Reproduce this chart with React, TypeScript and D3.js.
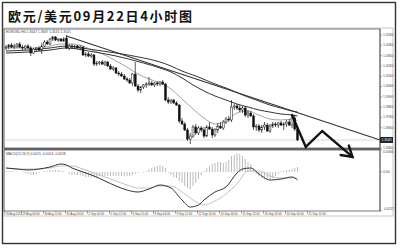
import React from "react";
import * as d3 from "d3";

const TITLE = "欧元/美元09月22日4小时图";
const SYMBOL_LABEL = "EURUSD,H4 1.3647 1.3667 1.3531 1.3541";
const MACD_LABEL = "MACD(12,26,9) 0.0015 -0.0024 -0.0018";

// 4-hour candles, oldest first
const OPEN = [
  1.4434, 1.4443, 1.4463, 1.4443, 1.4453, 1.4473, 1.4443, 1.4434, 1.4453, 1.4434,
  1.4385, 1.4424, 1.4434, 1.4414, 1.4453, 1.4492, 1.4473, 1.4521, 1.4541, 1.4511,
  1.4521, 1.4502, 1.4531, 1.4434, 1.4453, 1.4443, 1.4453, 1.4434, 1.4443, 1.4366,
  1.4376, 1.4356, 1.4366, 1.4278, 1.4288, 1.4298, 1.4278, 1.4298, 1.4259, 1.4230,
  1.4240, 1.4191, 1.4181, 1.4162, 1.4133, 1.4123, 1.4094, 1.4181, 1.4065, 1.4026,
  1.4055, 1.4075, 1.4084, 1.4094, 1.4075, 1.4094, 1.4084, 1.4104, 1.4084, 1.3929,
  1.3910, 1.3929, 1.3900, 1.3880, 1.3725, 1.3696, 1.3638, 1.3550, 1.3579, 1.3667,
  1.3609, 1.3657, 1.3638, 1.3579, 1.3667, 1.3647, 1.3589, 1.3638, 1.3676, 1.3657,
  1.3715, 1.3744, 1.3735, 1.3861, 1.3871, 1.3851, 1.3832, 1.3851, 1.3783, 1.3803,
  1.3774, 1.3667, 1.3676, 1.3638, 1.3667, 1.3686, 1.3628, 1.3676, 1.3696, 1.3686,
  1.3706, 1.3686, 1.3696, 1.3715, 1.3686, 1.3754, 1.3647,
];
const HIGH = [
  1.4463, 1.4473, 1.4482, 1.4473, 1.4482, 1.4492, 1.4463, 1.4463, 1.4473, 1.4453,
  1.4434, 1.4443, 1.4453, 1.4482, 1.4511, 1.4511, 1.4531, 1.4550, 1.4550, 1.4531,
  1.4531, 1.4541, 1.4560, 1.4473, 1.4473, 1.4463, 1.4463, 1.4463, 1.4453, 1.4395,
  1.4395, 1.4385, 1.4376, 1.4308, 1.4308, 1.4317, 1.4308, 1.4308, 1.4278, 1.4259,
  1.4249, 1.4210, 1.4201, 1.4181, 1.4152, 1.4143, 1.4191, 1.4298, 1.4084, 1.4065,
  1.4084, 1.4104, 1.4152, 1.4113, 1.4104, 1.4113, 1.4113, 1.4123, 1.4094, 1.3958,
  1.3939, 1.3939, 1.3919, 1.3890, 1.3754, 1.3715, 1.3657, 1.3609, 1.3686, 1.3696,
  1.3676, 1.3676, 1.3667, 1.3686, 1.3715, 1.3667, 1.3657, 1.3706, 1.3715, 1.3735,
  1.3764, 1.3774, 1.3929, 1.3890, 1.3890, 1.3880, 1.3871, 1.3871, 1.3832, 1.3822,
  1.3793, 1.3696, 1.3696, 1.3686, 1.3715, 1.3706, 1.3696, 1.3715, 1.3715, 1.3715,
  1.3725, 1.3715, 1.3735, 1.3744, 1.3783, 1.3783, 1.3667,
];
const LOW = [
  1.4414, 1.4424, 1.4434, 1.4424, 1.4434, 1.4434, 1.4414, 1.4414, 1.4424, 1.4356,
  1.4376, 1.4405, 1.4405, 1.4376, 1.4443, 1.4463, 1.4463, 1.4502, 1.4502, 1.4492,
  1.4492, 1.4492, 1.4424, 1.4414, 1.4424, 1.4424, 1.4424, 1.4414, 1.4356, 1.4346,
  1.4346, 1.4337, 1.4259, 1.4259, 1.4269, 1.4269, 1.4259, 1.4249, 1.4220, 1.4210,
  1.4181, 1.4162, 1.4152, 1.4123, 1.4104, 1.4084, 1.4065, 1.4055, 1.4007, 1.3997,
  1.4036, 1.4046, 1.4065, 1.4065, 1.4055, 1.4065, 1.4065, 1.4075, 1.3919, 1.3890,
  1.3890, 1.3890, 1.3871, 1.3706, 1.3686, 1.3628, 1.3531, 1.3502, 1.3560, 1.3589,
  1.3589, 1.3618, 1.3560, 1.3570, 1.3638, 1.3560, 1.3570, 1.3609, 1.3647, 1.3638,
  1.3696, 1.3715, 1.3715, 1.3832, 1.3832, 1.3812, 1.3803, 1.3764, 1.3754, 1.3764,
  1.3638, 1.3628, 1.3618, 1.3609, 1.3638, 1.3618, 1.3609, 1.3657, 1.3667, 1.3657,
  1.3676, 1.3638, 1.3667, 1.3676, 1.3657, 1.3628, 1.3531,
];
const CLOSE = [
  1.4443, 1.4463, 1.4443, 1.4453, 1.4473, 1.4443, 1.4434, 1.4453, 1.4434, 1.4385,
  1.4424, 1.4434, 1.4414, 1.4453, 1.4492, 1.4473, 1.4521, 1.4541, 1.4511, 1.4521,
  1.4502, 1.4521, 1.4434, 1.4453, 1.4443, 1.4453, 1.4434, 1.4443, 1.4366, 1.4376,
  1.4356, 1.4366, 1.4278, 1.4288, 1.4298, 1.4278, 1.4298, 1.4259, 1.4230, 1.4240,
  1.4191, 1.4181, 1.4162, 1.4133, 1.4123, 1.4094, 1.4181, 1.4065, 1.4026, 1.4055,
  1.4075, 1.4084, 1.4094, 1.4075, 1.4094, 1.4084, 1.4104, 1.4084, 1.3929, 1.3910,
  1.3929, 1.3900, 1.3880, 1.3725, 1.3696, 1.3638, 1.3550, 1.3579, 1.3667, 1.3609,
  1.3657, 1.3638, 1.3579, 1.3667, 1.3647, 1.3589, 1.3638, 1.3676, 1.3657, 1.3715,
  1.3744, 1.3735, 1.3861, 1.3871, 1.3851, 1.3832, 1.3851, 1.3783, 1.3803, 1.3774,
  1.3667, 1.3676, 1.3638, 1.3667, 1.3686, 1.3628, 1.3676, 1.3696, 1.3686, 1.3706,
  1.3686, 1.3696, 1.3715, 1.3686, 1.3754, 1.3647, 1.3541,
];

// moving averages sampled as [bar, price]
const MA_FAST: [number, number][] = [
  [0, 1.4434], [4, 1.4434], [8, 1.4434], [12, 1.4434], [16, 1.4453], [20, 1.4473],
  [24, 1.4473], [28, 1.4453], [32, 1.4405], [36, 1.4366], [40, 1.4308], [44, 1.4249],
  [48, 1.4181], [52, 1.4133], [56, 1.4094], [60, 1.4036], [64, 1.3939], [68, 1.3842],
  [72, 1.3754], [76, 1.3696], [80, 1.3725], [84, 1.3803], [88, 1.3822], [92, 1.3783],
  [96, 1.3744], [100, 1.3735], [104, 1.3744], [106, 1.3725],
];
const MA_MID: [number, number][] = [
  [0, 1.4405], [8, 1.4414], [16, 1.4434], [22, 1.4453], [30, 1.4424], [40, 1.4385],
  [50, 1.4337], [56, 1.4298], [60, 1.4259], [64, 1.4210], [70, 1.4152], [76, 1.4084],
  [80, 1.4046], [86, 1.3978], [92, 1.3919], [96, 1.3880], [100, 1.3851], [104, 1.3822],
  [106, 1.3812],
];
const MA_SLOW: [number, number][] = [
  [0, 1.4385], [8, 1.4395], [16, 1.4414], [22, 1.4434], [30, 1.4405], [40, 1.4356],
  [50, 1.4288], [56, 1.4240], [60, 1.4201], [64, 1.4143], [68, 1.4075], [72, 1.4017],
  [76, 1.3968], [80, 1.3929], [84, 1.3890], [88, 1.3861], [92, 1.3832], [96, 1.3812],
  [100, 1.3793], [104, 1.3783], [106, 1.3774],
];

// resistance line and projected path, as [bar, price]
const TREND_LINE: [number, number][] = [[22, 1.4550], [136, 1.3541]];
const PROJECTION: [number, number][] = [[104, 1.3783], [109, 1.3473], [115, 1.3628], [126, 1.3376]];

const PRICE_TICKS = [1.456, 1.446, 1.436, 1.426, 1.416, 1.406, 1.396, 1.386, 1.376, 1.366, 1.356, 1.346];
const LAST_PRICE = 1.3541;

// MACD histogram per bar, main and signal lines sampled as [bar, value]
const MACD_HIST = [
  0.0003, 0.0003, 0.0003, 0.00015, 0.00015, 0, -0.00015, -0.0003, -0.0006, -0.0009,
  -0.0009, -0.0006, -0.0003, 0, 0.0003, 0.0003, 0.0006, 0.0006, 0.0006, 0.0006,
  0.00045, 0.0003, 0, -0.0006, -0.0009, -0.0009, -0.0009, -0.0009, -0.0012, -0.0015,
  -0.0015, -0.0015, -0.0015, -0.0015, -0.0012, -0.0012, -0.0012, -0.0012, -0.0012, -0.0012,
  -0.0012, -0.0012, -0.0012, -0.0012, -0.0012, -0.0012, -0.0009, -0.0006, -0.0003, 0,
  -0.00015, 0.0003, 0.0009, 0.0012, 0.0015, 0.0018, 0.0021, 0.0018, 0.0012, -0.0003,
  -0.0009, -0.0015, -0.0018, -0.0027, -0.0033, -0.0042, -0.0048, -0.0051, -0.0042, -0.0033,
  -0.0021, -0.0009, 0.0003, 0.0012, 0.0018, 0.0024, 0.0027, 0.003, 0.003, 0.0027,
  0.003, 0.0036, 0.0048, 0.0051, 0.0057, 0.0054, 0.0048, 0.0039, 0.003, 0.0024,
  0.0009, -0.0006, -0.0012, -0.0018, -0.0021, -0.0024, -0.0021, -0.0018, -0.0012, -0.0006,
  0.0003, 0.0003, 0.0006, 0.0006, 0.0009, 0.0012, 0.0015,
];
const MACD_MAIN: [number, number][] = [
  [0, 0.0012], [4, 0.0009], [8, 0.0006], [12, 0.0009], [16, 0.0015], [20, 0.0024],
  [22, 0.0021], [24, 0.0012], [28, 0], [32, -0.0012], [36, -0.0027], [40, -0.0042],
  [44, -0.0054], [48, -0.006], [52, -0.0051], [56, -0.0039], [60, -0.0048], [64, -0.0084],
  [67, -0.0105], [70, -0.0099], [72, -0.0084], [76, -0.006], [80, -0.0045], [84, -0.0003],
  [86, 0.0009], [89, 0.0012], [92, -0.0006], [96, -0.0024], [100, -0.0021], [104, -0.0015],
  [106, -0.0024],
];
const MACD_SIGNAL: [number, number][] = [
  [0, 0.0012], [4, 0.0009], [8, 0.0009], [12, 0.0009], [16, 0.0012], [20, 0.0018],
  [24, 0.0018], [28, 0.0009], [32, -0.0003], [36, -0.0015], [40, -0.0027], [44, -0.0039],
  [48, -0.0048], [52, -0.0048], [56, -0.0042], [60, -0.0042], [64, -0.006], [68, -0.0084],
  [72, -0.0099], [76, -0.0087], [80, -0.0066], [84, -0.0036], [88, 0.0003], [92, 0.0003],
  [96, -0.0012], [100, -0.0018], [104, -0.0018], [106, -0.0018],
];
const MACD_TICKS = [0.0066, 0, -0.0117];
const MACD_TICK_TEXT = ["0.0066", "0.00", "-0.0117"];

const TIME_LABEL_BARS = [0, 6, 14, 22, 30, 38, 46, 54, 62, 70, 78, 86, 94, 102, 110];
const TIME_LABELS = [
  "26 Aug 2011", "29 Aug 04:00", "30 Aug 12:00", "31 Aug 20:00", "2 Sep 04:00",
  "5 Sep 12:00", "6 Sep 20:00", "8 Sep 04:00", "9 Sep 12:00", "12 Sep 20:00",
  "14 Sep 04:00", "15 Sep 12:00", "16 Sep 20:00", "20 Sep 04:00", "21 Sep 12:00",
];

export default function App() {
  const left = 4;
  const axisX = 380;
  const frameR = 393;
  const mainTop = 29;
  const mainBot = 148;
  const macdTop = 150;
  const macdBot = 211;

  const x = d3.scaleLinear().domain([0, 136]).range([6, axisX]);
  const yP = d3.scaleLinear().domain([1.3463, 1.4599]).range([mainBot, 31]);
  const yM = d3.scaleLinear().domain([-0.0117, 0.0066]).range([macdBot, macdTop]);

  const priceLine = d3
    .line<[number, number]>()
    .x((d) => x(d[0]))
    .y((d) => yP(d[1]))
    .curve(d3.curveMonotoneX);
  const straight = d3
    .line<[number, number]>()
    .x((d) => x(d[0]))
    .y((d) => yP(d[1]));
  const macdLine = d3
    .line<[number, number]>()
    .x((d) => x(d[0]))
    .y((d) => yM(d[1]))
    .curve(d3.curveMonotoneX);

  const bodyW = 1.9;
  const tiny = 3.4;
  const lastY = yP(LAST_PRICE);

  // arrow head at the end of the projected path
  const pts = PROJECTION.map((d) => [x(d[0]), yP(d[1])]);
  const tip = pts[pts.length - 1];
  const prev = pts[pts.length - 2];
  const ang = Math.atan2(tip[1] - prev[1], tip[0] - prev[0]);
  const headLen = 12;
  const wing = (a: number) => [tip[0] - headLen * Math.cos(ang + a), tip[1] - headLen * Math.sin(ang + a)];
  const w1 = wing(0.55);
  const w2 = wing(-0.55);

  return (
    <svg
      width={400}
      height={248}
      viewBox="0 0 400 248"
      style={{ position: "absolute", left: 0, top: 0, background: "#fff" }}
      fontFamily="'Liberation Sans', 'DejaVu Sans', sans-serif"
    >
      <rect x={0} y={0} width={400} height={248} fill="#fff" />
      {/* outer frame */}
      <rect x={2.5} y={2.5} width={393} height={241} fill="none" stroke="#333" strokeWidth={1.4} />

      <text
        x={8}
        y={21}
        fontFamily="'Noto Sans CJK SC', sans-serif"
        fontWeight={700}
        fontSize={13}
        textLength={184}
        lengthAdjust="spacing"
        fill="#111"
      >
        {TITLE}
      </text>

      {/* chart window */}
      <rect x={left} y={mainTop - 1} width={frameR - left} height={216 - mainTop + 1} fill="none" stroke="#bbb" strokeWidth={0.8} />
      <rect x={left} y={mainTop} width={axisX - left} height={mainBot - mainTop} fill="none" stroke="#555" strokeWidth={0.8} />
      <rect x={left} y={macdTop} width={axisX - left} height={macdBot - macdTop} fill="none" stroke="#555" strokeWidth={0.8} />
      <line x1={left} x2={axisX} y1={(mainBot + macdTop) / 2} y2={(mainBot + macdTop) / 2} stroke="#444" strokeWidth={1.6} />

      {/* price axis */}
      <line x1={axisX} x2={axisX} y1={mainTop} y2={macdBot} stroke="#555" strokeWidth={0.8} />
      {PRICE_TICKS.map((p) => (
        <g key={p}>
          <line x1={axisX} x2={axisX + 2} y1={yP(p)} y2={yP(p)} stroke="#555" strokeWidth={0.5} />
          {Math.abs(yP(p) - lastY) > 5 && (
            <text x={axisX + 3} y={yP(p)} fontSize={tiny} dominantBaseline="middle" fill="#444">
              {p.toFixed(4)}
            </text>
          )}
        </g>
      ))}
      <line x1={left} x2={axisX} y1={lastY} y2={lastY} stroke="#ccc" strokeWidth={0.7} />
      <rect x={axisX} y={lastY - 3} width={13} height={6} fill="#222" />
      <text x={axisX + 1.5} y={lastY} fontSize={tiny} dominantBaseline="middle" fill="#fff">
        {LAST_PRICE.toFixed(4)}
      </text>

      <text x={left + 2} y={mainTop + 4} fontSize={tiny} fill="#444">
        {SYMBOL_LABEL}
      </text>

      {/* moving averages */}
      <path d={priceLine(MA_FAST) || ""} fill="none" stroke="#9a9a9a" strokeWidth={0.9} />
      <path d={priceLine(MA_SLOW) || ""} fill="none" stroke="#333" strokeWidth={1} />
      <path d={priceLine(MA_MID) || ""} fill="none" stroke="#333" strokeWidth={1} />
      <path d={straight(TREND_LINE) || ""} fill="none" stroke="#333" strokeWidth={1.1} />

      {/* candles */}
      {CLOSE.map((c, i) => {
        const o = OPEN[i];
        const up = c >= o;
        const cx = x(i);
        const top = yP(Math.max(o, c));
        const bot = yP(Math.min(o, c));
        return (
          <g key={i}>
            <line x1={cx} x2={cx} y1={yP(HIGH[i])} y2={yP(LOW[i])} stroke="#111" strokeWidth={0.7} />
            <rect
              x={cx - bodyW / 2}
              y={top}
              width={bodyW}
              height={Math.max(bot - top, 0.6)}
              fill={up ? "#fff" : "#111"}
              stroke="#111"
              strokeWidth={0.5}
            />
          </g>
        );
      })}

      {/* projected path */}
      <path
        d={straight(PROJECTION) || ""}
        fill="none"
        stroke="#111"
        strokeWidth={2.4}
        strokeLinejoin="miter"
        strokeLinecap="round"
      />
      <path
        d={`M${w1[0]},${w1[1]}L${tip[0]},${tip[1]}L${w2[0]},${w2[1]}`}
        fill="none"
        stroke="#111"
        strokeWidth={2.4}
        strokeLinecap="round"
      />

      {/* MACD */}
      <text x={left + 2} y={macdTop + 4.5} fontSize={tiny} fill="#444">
        {MACD_LABEL}
      </text>
      {MACD_HIST.map((v, i) => (
        <line key={i} x1={x(i)} x2={x(i)} y1={yM(0)} y2={yM(v)} stroke="#aaa" strokeWidth={0.8} />
      ))}
      <path d={macdLine(MACD_SIGNAL) || ""} fill="none" stroke="#bbb" strokeWidth={0.9} />
      <path d={macdLine(MACD_MAIN) || ""} fill="none" stroke="#333" strokeWidth={1} />
      {MACD_TICKS.map((v, k) => (
        <g key={k}>
          <line x1={axisX} x2={axisX + 2} y1={yM(v)} y2={yM(v)} stroke="#555" strokeWidth={0.5} />
          <text
            x={axisX + 3}
            y={k === 0 ? yM(v) + 2 : k === 2 ? yM(v) - 2 : yM(v)}
            fontSize={tiny}
            dominantBaseline="middle"
            fill="#444"
          >
            {MACD_TICK_TEXT[k]}
          </text>
        </g>
      ))}

      {/* time axis */}
      {TIME_LABEL_BARS.map((b, k) => (
        <g key={b}>
          <line x1={x(b) - 1} x2={x(b) - 1} y1={macdBot} y2={macdBot + 3} stroke="#555" strokeWidth={0.5} />
          <text x={x(b)} y={macdBot + 3.6} fontSize={2.9} fill="#444">
            {TIME_LABELS[k]}
          </text>
        </g>
      ))}
    </svg>
  );
}
